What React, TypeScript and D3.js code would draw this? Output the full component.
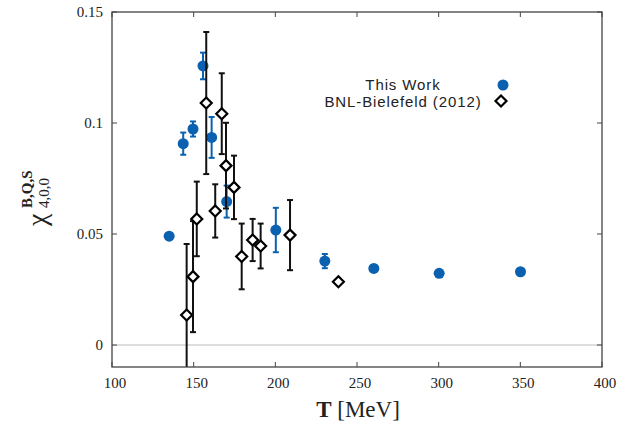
import React from "react";
import * as d3 from "d3";

// This Work (blue circles)
const thisT = [135, 143.6, 149.6, 155.7, 161, 170.2, 200.3, 230.3, 260.3, 300.3, 350.1];
const thisV = [0.049, 0.0907, 0.0973, 0.1257, 0.0935, 0.0646, 0.0518, 0.0378, 0.0345, 0.0323, 0.033];
const thisE = [0.0005, 0.005, 0.0034, 0.006, 0.0092, 0.0072, 0.01, 0.0032, 0.001, 0.0008, 0.0008];

// BNL-Bielefeld (2012) (open diamonds)
const bnlT = [145.7, 149.6, 151.9, 157.7, 163.2, 167.2, 169.8, 174.7, 179.4, 186.1, 191.0, 209.0, 238.6];
const bnlV = [0.0135, 0.0308, 0.0568, 0.109, 0.0604, 0.1042, 0.0808, 0.071, 0.0399, 0.0473, 0.0446, 0.0495, 0.0285];
const bnlE = [0.032, 0.025, 0.0168, 0.032, 0.012, 0.0182, 0.0193, 0.0143, 0.0148, 0.0095, 0.0101, 0.0158, 0.0008];

const xTicks = [100, 150, 200, 250, 300, 350, 400];
const yTicks = [0, 0.05, 0.1, 0.15];
const yTickLabels = ["0", "0.05", "0.1", "0.15"];
const legendLabels = ["This Work", "BNL-Bielefeld (2012)"];

const W = 634;
const H = 429;
const L = 112;
const R = 602;
const T = 12;
const B = 367;

const BLUE = "#0b61b0";

export default function App() {
  const x = d3.scaleLinear().domain([100, 400]).range([L, R]);
  const y = d3.scaleLinear().domain([-0.0099, 0.15]).range([B, T]);
  const serif = "'Liberation Serif', 'DejaVu Serif', serif";
  const sans = "'Liberation Sans', Arial, sans-serif";
  const cap = 3;
  const dh = 5.5;
  const diamond = (cx: number, cy: number) =>
    `M${cx},${cy - dh}L${cx + dh},${cy}L${cx},${cy + dh}L${cx - dh},${cy}Z`;

  return (
    <div style={{ position: "absolute", left: 0, top: 0 }}>
      <svg width={W} height={H} style={{ display: "block", background: "#fff" }}>
        <defs>
          <clipPath id="plotclip">
            <rect x={L} y={T} width={R - L} height={B - T} />
          </clipPath>
        </defs>
        {/* zero line */}
        <line x1={L} x2={R} y1={y(0)} y2={y(0)} stroke="#bbb" strokeWidth={1} />
        {/* ticks */}
        {xTicks.map((t) => (
          <g key={"xt" + t}>
            <line x1={x(t)} x2={x(t)} y1={B} y2={B - 5} stroke="#444" />
            <line x1={x(t)} x2={x(t)} y1={T} y2={T + 5} stroke="#444" />
            <text x={x(t) + 3} y={388} textAnchor="middle" fontFamily={serif} fontSize={15} fill="#222">
              {t}
            </text>
          </g>
        ))}
        {yTicks.map((t, i) => (
          <g key={"yt" + t}>
            <line x1={L} x2={L + 5} y1={y(t)} y2={y(t)} stroke="#444" />
            <line x1={R} x2={R - 5} y1={y(t)} y2={y(t)} stroke="#444" />
            <text x={103} y={y(t) + 5} textAnchor="end" fontFamily={serif} fontSize={15} fill="#222">
              {yTickLabels[i]}
            </text>
          </g>
        ))}
        <g clipPath="url(#plotclip)">
          {/* This Work */}
          {thisT.map((t, i) => {
            const cx = x(t);
            const y1 = y(thisV[i] + thisE[i]);
            const y2 = y(thisV[i] - thisE[i]);
            return (
              <g key={"b" + i}>
                {y2 - y1 > 4 && (
                  <g stroke={BLUE} strokeWidth={2}>
                    <line x1={cx} x2={cx} y1={y1} y2={y2} />
                    <line x1={cx - cap} x2={cx + cap} y1={y1} y2={y1} />
                    <line x1={cx - cap} x2={cx + cap} y1={y2} y2={y2} />
                  </g>
                )}
                <circle cx={cx} cy={y(thisV[i])} r={5.5} fill={BLUE} />
              </g>
            );
          })}
          {/* BNL-Bielefeld */}
          {bnlT.map((t, i) => {
            const cx = x(t);
            const cy = y(bnlV[i]);
            const y1 = y(bnlV[i] + bnlE[i]);
            const y2 = y(bnlV[i] - bnlE[i]);
            return (
              <g key={"k" + i}>
                {y2 - y1 > 4 && (
                  <g stroke="#111" strokeWidth={2}>
                    <line x1={cx} x2={cx} y1={y1} y2={y2} />
                    <line x1={cx - cap} x2={cx + cap} y1={y1} y2={y1} />
                    <line x1={cx - cap} x2={cx + cap} y1={y2} y2={y2} />
                  </g>
                )}
                <path d={diamond(cx, cy)} fill="#fff" stroke="#000" strokeWidth={2.2} />
              </g>
            );
          })}
        </g>
        {/* frame */}
        <rect x={L} y={T} width={R - L} height={B - T} fill="none" stroke="#444" strokeWidth={1.3} />
        {/* legend */}
        <text x={403} y={90} textAnchor="middle" fontFamily={sans} fontSize={15} letterSpacing={0.9} fill="#222">
          {legendLabels[0]}
        </text>
        <circle cx={503} cy={85} r={5.5} fill={BLUE} />
        <text x={403} y={107} textAnchor="middle" fontFamily={sans} fontSize={15} letterSpacing={0.9} fill="#222">
          {legendLabels[1]}
        </text>
        <path d={diamond(501, 101)} fill="#fff" stroke="#000" strokeWidth={2.2} />
        {/* x label */}
        <text x={358} y={417} textAnchor="middle" fontFamily={serif} fontSize={23} fill="#222">
          <tspan fontWeight="bold">T</tspan>
          <tspan> [MeV]</tspan>
        </text>
        {/* y label */}
        <g transform="translate(46,226) rotate(-90)" fontFamily={serif} fill="#222">
          <text x={0} y={0} fontSize={28}>χ</text>
          <text x={18} y={-14} fontSize={15} fontWeight="bold">B,Q,S</text>
          <text x={18} y={3} fontSize={15}>4,0,0</text>
        </g>
      </svg>
    </div>
  );
}
